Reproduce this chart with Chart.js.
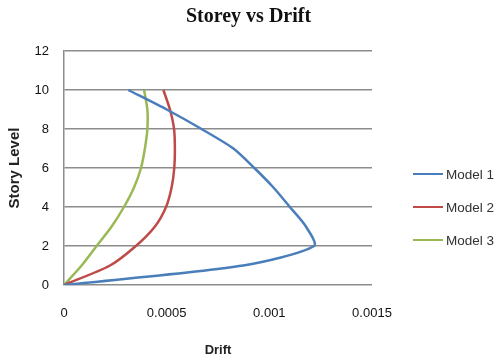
<!DOCTYPE html>
<html>
<head>
<meta charset="utf-8">
<script src="https://cdn.jsdelivr.net/npm/chart.js@4"></script>
<style>
  html, body { margin: 0; padding: 0; background: #fff; }
  #wrap { position: relative; width: 497px; height: 362px; }
  #title { position: absolute; left: 0; top: 3px; width: 497px; text-align: center; font-family: "Liberation Serif", serif; font-weight: bold; font-size: 20px; line-height: 24px; color: #111; }
  #legend { position: absolute; left: 413px; top: 165px; font-family: "Liberation Sans", sans-serif; font-size: 13.5px; color: #333; }
  .item { display: flex; align-items: center; height: 18px; margin-bottom: 15px; }
  .swatch { width: 30px; height: 2px; margin-right: 3px; }
</style>
</head>
<body>
<div id="wrap">
  <canvas id="chart" width="497" height="362"></canvas>
  <div id="title">Storey vs Drift</div>
  <div id="legend"></div>
</div>
<script>
// --- DADOS ---
const storyLevels = [0, 1, 2, 3, 4, 5, 6, 7, 8, 9, 10];
const model1Drift = [0, 0.000873, 0.001218, 0.001178, 0.0011, 0.00102, 0.000927, 0.000825, 0.00067, 0.0005, 0.000313];
const model2Drift = [0, 0.000224, 0.00035, 0.000443, 0.000497, 0.000524, 0.000537, 0.00054, 0.000536, 0.000516, 0.000484];
const model3Drift = [0, 0.000086, 0.000159, 0.000232, 0.000292, 0.000341, 0.000375, 0.000394, 0.000406, 0.000406, 0.00039];
const seriesNames = ["Model 1", "Model 2", "Model 3"];
const seriesColors = ["#4a7ebb", "#be4b48", "#98b954"];
const xTickLabels = ["0", "0.0005", "0.001", "0.0015"];
const yTickLabels = ["0", "2", "4", "6", "8", "10", "12"];

const toPoints = (drift) => drift.map((d, i) => ({ x: d, y: storyLevels[i] }));
const allDrift = [model1Drift, model2Drift, model3Drift];

const tickFont = { family: "Liberation Sans", size: 13 };

const chart = new Chart(document.getElementById("chart"), {
    type: "scatter",
    data: {
        datasets: allDrift.map((d, i) => ({
            label: seriesNames[i],
            data: toPoints(d),
            showLine: true,
            borderColor: seriesColors[i],
            backgroundColor: seriesColors[i],
            borderWidth: 2.5,
            pointRadius: 0,
            pointHoverRadius: 0,
            tension: 0.25
        }))
    },
    options: {
        responsive: false,
        animation: false,
        layout: { padding: { right: 125, top: 51, left: 0, bottom: 0 } },
        plugins: {
            legend: { display: false },
            tooltip: { enabled: false },
            title: { display: false }
        },
        scales: {
            x: {
                type: "linear",
                min: 0,
                max: 0.0015,
                afterBuildTicks: (s) => { s.ticks = xTickLabels.map((_, i) => ({ value: i * 0.0005 })); },
                ticks: { callback: (v, i) => xTickLabels[i], color: "#111", font: tickFont, padding: 21, maxRotation: 0 },
                grid: { display: false, drawTicks: false },
                border: { display: false },
                title: { display: true, text: "Drift", color: "#222", font: { family: "Liberation Sans", size: 13, weight: "bold" }, padding: { top: 0, bottom: 4 } },
                afterFit: (s) => { s.height = 77; }
            },
            y: {
                min: 0,
                max: 12,
                ticks: { stepSize: 2, callback: (v, i) => yTickLabels[i], color: "#111", font: tickFont, padding: 15 },
                grid: { color: "#8c8c8c", lineWidth: 1.5, drawTicks: false },
                border: { display: true, color: "#8c8c8c", width: 1.5 },
                title: { display: true, text: "Story Level", color: "#222", font: { family: "Liberation Sans", size: 15, weight: "bold" }, padding: { top: 6, bottom: 4 } },
                afterFit: (s) => { s.width = 64; }
            }
        }
    }
});

// --- LEGENDA ---
document.getElementById("legend").innerHTML = seriesNames.map((n, i) => `
    <div class="item"><span class="swatch" style="background:${seriesColors[i]}"></span>${n}</div>`).join("");
</script>
</body>
</html>
